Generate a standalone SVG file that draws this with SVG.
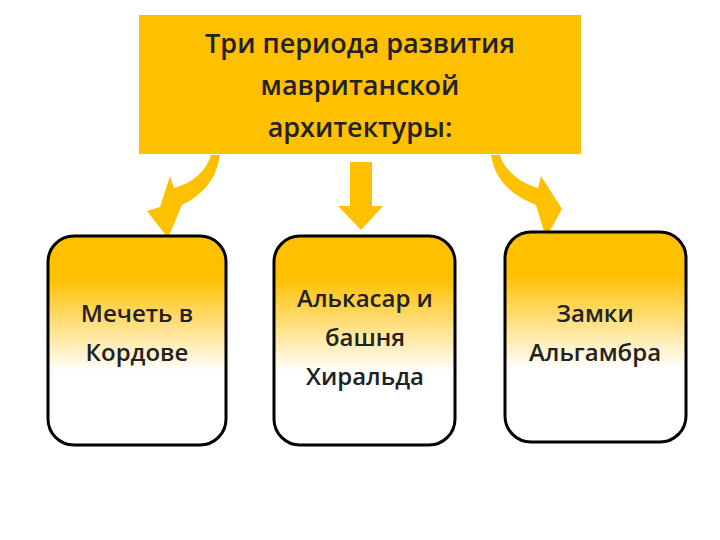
<svg xmlns="http://www.w3.org/2000/svg" width="720" height="540" viewBox="0 0 720 540">
<defs>
<linearGradient id="g" x1="0" y1="0" x2="0" y2="1">
<stop offset="0" stop-color="#FFC000"/><stop offset="0.2" stop-color="#FFC000"/><stop offset="0.65" stop-color="#FFFFFF"/><stop offset="1" stop-color="#FFFFFF"/>
</linearGradient>
<style>
.b{fill:url(#g);stroke:#000;stroke-width:3}
.t{font-family:"Open Sans","DejaVu Sans",sans-serif;font-size:24px;font-weight:600;fill:#222;text-anchor:middle}
.a{fill:#FFC000}
</style>
</defs>
<rect width="720" height="540" fill="#fff"/>
<g id="top"><rect x="139" y="15" width="442" height="139" fill="#FFC000"/>
<text class="t" style="font-size:27px"><tspan x="360" y="53">Три периода развития</tspan><tspan x="360" y="95">мавританской</tspan><tspan x="360" y="137">архитектуры:</tspan></text></g>
<g id="connectors">
<path class="a" d="M211,155 L220,155 C216,182 200,196 182,205 L168,238 L147,211 L160,207 L170,176 L174,188 C192,183 206,172 211,155 Z"/>
<path class="a" d="M350,162 L372,162 L372,206 L383,206 L361,230 L338,206 L350,206 Z"/>
<path class="a" d="M491,155 L500,155 C504,170 520,183 538,188 L541,176 L562,209 L546,238 L536,205 C514,196 495,182 491,155 Z"/>
</g>
<g id="n1"><rect class="b" x="48" y="236" width="178" height="209" rx="26"/>
<text class="t"><tspan x="137" y="322">Мечеть в</tspan><tspan x="137" y="361">Кордове</tspan></text></g>
<g id="n2"><rect class="b" x="274" y="236" width="181" height="209" rx="26"/>
<text class="t"><tspan x="365" y="307">Алькасар и</tspan><tspan x="365" y="346">башня</tspan><tspan x="365" y="385">Хиральда</tspan></text></g>
<g id="n3"><rect class="b" x="505" y="232" width="181" height="210" rx="26"/>
<text class="t"><tspan x="595" y="322">Замки</tspan><tspan x="595" y="361">Альгамбра</tspan></text></g>
</svg>
